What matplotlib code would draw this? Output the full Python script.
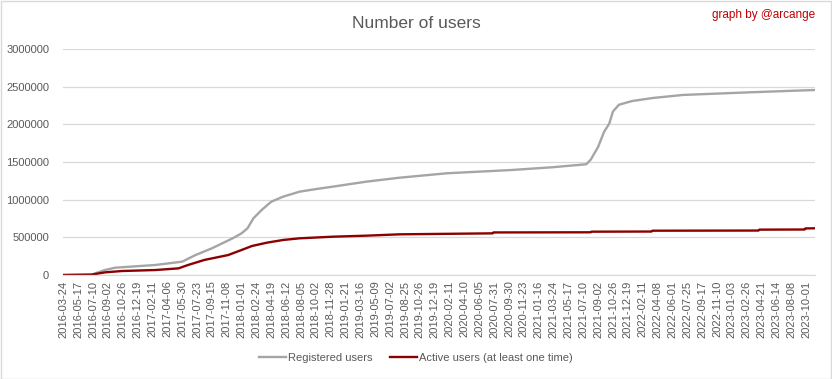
import matplotlib
matplotlib.use("Agg")
import matplotlib.pyplot as plt
from matplotlib.patches import Rectangle

# Category tick labels (Excel text axis, one label every N categories)
tick_labels = [
    "2016-03-24", "2016-05-17", "2016-07-10", "2016-09-02", "2016-10-26", "2016-12-19",
    "2017-02-11", "2017-04-06", "2017-05-30", "2017-07-23", "2017-09-15", "2017-11-08",
    "2018-01-01", "2018-02-24", "2018-04-19", "2018-06-12", "2018-08-05", "2018-10-02",
    "2018-11-28", "2019-01-21", "2019-03-16", "2019-05-09", "2019-07-02", "2019-08-25",
    "2019-10-26", "2019-12-19", "2020-02-11", "2020-04-10", "2020-06-05", "2020-07-31",
    "2020-09-30", "2020-11-23", "2021-01-16", "2021-03-24", "2021-05-17", "2021-07-10",
    "2021-09-02", "2021-10-26", "2021-12-19", "2022-02-11", "2022-04-08", "2022-06-01",
    "2022-07-25", "2022-09-17", "2022-11-10", "2023-01-03", "2023-02-26", "2023-04-21",
    "2023-06-14", "2023-08-08", "2023-10-01",
]

# Registered users: position in label units, value
reg_x = [0, 1.9, 2.8, 3.5, 6.2, 8.0, 8.9, 10.0, 11.4, 12.0, 12.4, 12.8, 13.35, 14.0,
         14.8, 15.9, 17.05, 18.15, 20.4, 22.65, 25.8, 30.2, 32.9, 35.2, 35.5, 36.0,
         36.4, 36.75, 37.0, 37.4, 38.3, 39.7, 41.7, 46.2, 50.6]
reg_y = [0, 5000, 66000, 97000, 133000, 177000, 265000, 354000, 487000, 553000, 620000,
         753000, 863000, 973000, 1040000, 1106000, 1142000, 1173000, 1239000, 1292000,
         1350000, 1394000, 1430000, 1470000, 1530000, 1700000, 1900000, 2010000, 2170000,
         2260000, 2310000, 2350000, 2390000, 2425000, 2456000]

# Active users (at least one time)
act_x = [0, 1.9, 2.8, 3.95, 6.2, 7.75, 8.4, 9.5, 11.1, 12.0, 12.7, 13.7, 14.8, 15.9,
         18.2, 20.4, 22.65, 28.9, 28.95, 35.5, 35.55, 39.6, 39.65, 46.8, 46.85, 49.9,
         49.95, 50.6]
act_y = [0, 5000, 35000, 53000, 66000, 88000, 133000, 200000, 265000, 332000, 385000,
         429000, 465000, 487000, 509000, 522000, 540000, 553000, 565000, 567000, 575000,
         577000, 588000, 590000, 602000, 604000, 618000, 620000]

y_ticks = [0, 500000, 1000000, 1500000, 2000000, 2500000, 3000000]

plt.rcParams['font.family'] = ['Liberation Sans', 'DejaVu Sans']

fig = plt.figure(figsize=(8.32, 3.79), dpi=100)
ax = fig.add_axes([63 / 832, 1 - 275 / 379, (815 - 63) / 832, (275 - 49) / 379])

ax.plot(reg_x, reg_y, color="#A5A5A5", lw=1.7, label="Registered users", solid_joinstyle="round")
ax.plot(act_x, act_y, color="#8B0000", lw=1.7, label="Active users (at least one time)",
        solid_joinstyle="round")

ax.set_xlim(-0.02, 50.6)
ax.set_ylim(0, 3000000)
ax.set_yticks(y_ticks)
ax.set_yticklabels([str(v) for v in y_ticks])
ax.set_xticks(range(len(tick_labels)))
ax.set_xticklabels(tick_labels, rotation=90)
ax.tick_params(axis="both", length=0, colors="#595959", labelsize=8)
ax.tick_params(axis="y", pad=10)
ax.tick_params(axis="x", pad=4)
ax.grid(axis="y", color="#D9D9D9", lw=0.9)
ax.set_axisbelow(True)
for s in ["top", "right", "left"]:
    ax.spines[s].set_visible(False)
ax.spines["bottom"].set_color("#D9D9D9")
ax.spines["bottom"].set_linewidth(0.9)

fig.text(0.5, 1 - 23 / 379, "Number of users", ha="center", va="center",
         fontsize=12.5, color="#595959")
fig.text(815 / 832, 1 - 15 / 379, "graph by @arcange", ha="right", va="center",
         fontsize=8.5, color="#C00000")

fig.legend(loc="center", bbox_to_anchor=(0.5, 1 - 358 / 379), ncol=2, frameon=False,
           fontsize=8, labelcolor="#595959", handlelength=2.4, handletextpad=0.2,
           columnspacing=1.6)

fig.patches.append(Rectangle((0.5 / 832, 0.5 / 379), 1 - 1.5 / 832, 1 - 1.5 / 379,
                             transform=fig.transFigure, fill=False,
                             edgecolor="#D9D9D9", lw=1))

fig.savefig("out.png", dpi=100)
